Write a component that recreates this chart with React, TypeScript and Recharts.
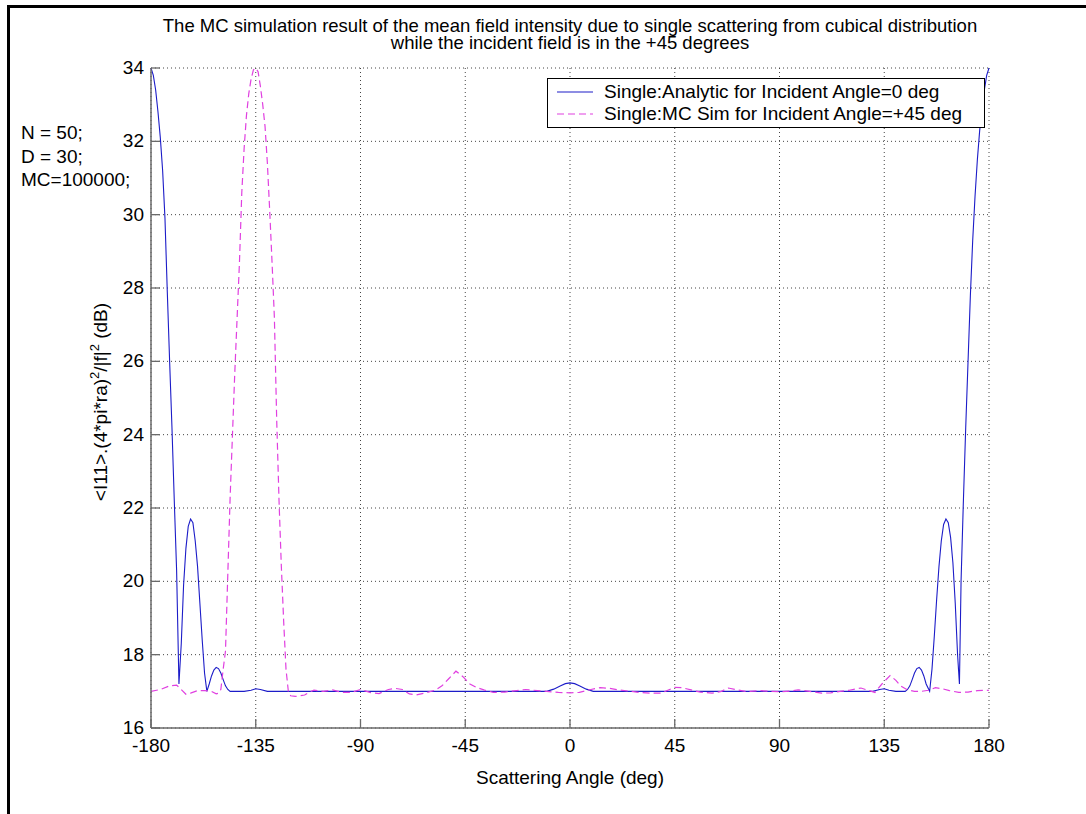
import { CartesianGrid, Label, Legend, Line, LineChart, XAxis, YAxis } from 'recharts'

const FONT = '"Liberation Sans", Arial, Helvetica, sans-serif'
const AXIS = '#6a6a6a'
const GRID = '#444444'
const BLUE = '#1c1cc8'
const MAGENTA = '#e040e0'

const titleLines = [
  'The MC simulation result of the mean field intensity due to single scattering from cubical distribution',
  'while the incident field is in the +45 degrees',
]
const notes = ['N = 50;', 'D = 30;', 'MC=100000;']

const xTicks = [-180, -135, -90, -45, 0, 45, 90, 135, 180]
const yTicks = [16, 18, 20, 22, 24, 26, 28, 30, 32, 34]

// Single:Analytic, incident angle 0 deg
const analyticAngles = [
  -180, -179, -178, -177, -176, -175, -174, -173, -172, -171, -170, -169, -168, -167, -166, -165, -164,
  -163, -162, -161, -160, -159, -158, -157, -156, -155, -154, -153, -152, -151, -150, -149, -148, -147,
  -146, -140, -137, -135, -133, -130, -100, -60, -10, -7, -4, -2, 0, 2, 4, 7, 10, 60, 100, 130, 133, 135,
  137, 140, 144, 145, 146, 147, 148, 149, 150, 151, 152, 153, 154.5, 155.5, 156.5, 157.5, 158.5, 159.5,
  160.5, 161.5, 162.5, 163.5, 164.5, 165.5, 166.5, 167.3, 168, 169, 170, 171, 172, 173, 174, 175, 176,
  177, 178, 179, 180,
]
const analyticDb = [
  34.0, 33.8, 33.4, 32.8, 32.1, 31.2, 29.9, 27.9, 26.0, 24.2, 22.2, 20.3, 17.2, 18.3, 19.9, 20.9, 21.5,
  21.7, 21.6, 21.1, 20.4, 19.4, 18.4, 17.5, 17.0, 17.2, 17.42, 17.58, 17.65, 17.62, 17.5, 17.32, 17.15, 17.05,
  17.0, 17.0, 17.03, 17.07, 17.05, 17.0, 17.0, 17.0, 17.0, 17.06, 17.15, 17.21, 17.23, 17.21, 17.15, 17.06, 17.0, 17.0, 17.0, 17.0, 17.05, 17.07,
  17.03, 17.0, 17.0, 17.05, 17.15, 17.32, 17.5, 17.62, 17.65, 17.58, 17.42, 17.2, 17.0, 17.6, 18.5, 19.5, 20.4, 21.1,
  21.55, 21.7, 21.6, 21.2, 20.5, 19.4, 18.0, 17.2, 20.0, 22.2, 24.2, 26.0, 27.8, 29.3, 30.5, 31.5, 32.3,
  32.9, 33.4, 33.8, 34.0,
]

// Single:MC Sim, incident angle +45 deg
const mcAngles = [
  -180, -176, -172, -169, -167, -165, -163, -160, -157, -154, -152, -151, -150, -149, -148, -147, -146,
  -145, -144, -143, -142, -141, -140, -139, -138, -137, -136, -135, -134, -133, -132, -131, -130, -129,
  -128, -127, -126, -125, -124, -123, -122, -121, -120, -118, -116, -114, -112, -110, -106, -102, -98,
  -94, -90, -86, -82, -78, -75, -72, -69, -66, -62, -58, -55, -52, -49, -46, -43, -40, -37, -33, -28,
  -23, -19, -14, -10, -5, 0, 4, 9, 13, 17, 21, 26, 30, 35, 39, 42, 45, 48, 52, 56, 61, 65, 68, 72, 76,
  81, 86, 91, 95, 98, 103, 108, 112, 116, 120, 125, 128, 131, 134, 137.5, 140, 142, 145, 148, 151, 154,
  157, 160, 163, 167, 171, 175, 180,
]
const mcDb = [
  17.0, 17.05, 17.15, 17.17, 17.05, 16.92, 16.95, 17.02, 17.02, 17.0, 16.93, 16.95, 17.05, 17.6, 18.1, 20.2, 22.3,
  24.0, 25.7, 27.2, 28.7, 30.6, 31.8, 32.7, 33.3, 33.7, 33.95, 34.0, 33.9, 33.5, 33.0, 32.4, 31.4, 30.1,
  28.7, 27.2, 24.4, 22.2, 20.4, 18.9, 17.6, 17.0, 16.88, 16.86, 16.88, 16.9, 16.98, 17.03, 17.0, 17.04, 16.97,
  16.97, 17.05, 16.97, 16.94, 17.05, 17.08, 17.05, 16.93, 16.9, 16.96, 17.03, 17.15, 17.35, 17.55, 17.4, 17.2, 17.1, 17.04, 16.97, 16.98,
  17.02, 17.05, 17.02, 17.0, 16.97, 16.96, 16.97, 17.05, 17.1, 17.08, 17.04, 17.0, 16.97, 16.95, 16.95, 17.03, 17.11, 17.1, 17.04, 16.98, 16.95, 17.0, 17.09, 17.04, 16.99,
  17.02, 17.0, 16.99, 17.01, 17.04, 17.0, 16.95, 16.96, 17.0, 17.03, 17.09, 17.03, 16.97, 17.2, 17.43, 17.3, 17.15, 17.04, 17.0, 17.0, 17.03,
  17.1, 17.07, 17.02, 16.97, 16.98, 17.02, 17.03,
]

const analyticData = analyticAngles.map((a, i) => ({ angle: a, db: analyticDb[i] }))
const mcData = mcAngles.map((a, i) => ({ angle: a, db: mcDb[i] }))

const textStyle = { fontFamily: FONT, fontSize: 19, fill: '#000' }

const BottomTick = (props: any) => {
  const { x, y, payload } = props
  return (
    <g>
      <line x1={x} y1={y} x2={x} y2={y - 9} stroke={AXIS} strokeWidth={1.3} />
      <text x={x} y={y + 24} textAnchor="middle" {...textStyle}>
        {payload.value}
      </text>
    </g>
  )
}

const LeftTick = (props: any) => {
  const { x, y, payload } = props
  return (
    <g>
      <line x1={x} y1={y} x2={x + 9} y2={y} stroke={AXIS} strokeWidth={1.3} />
      <text x={x - 7} y={y + 6} textAnchor="end" {...textStyle}>
        {payload.value}
      </text>
    </g>
  )
}

const TopTick = (props: any) => {
  const { x, y } = props
  return <line x1={x} y1={y} x2={x} y2={y + 9} stroke={AXIS} strokeWidth={1.3} />
}

const RightTick = (props: any) => {
  const { x, y } = props
  return <line x1={x} y1={y} x2={x - 9} y2={y} stroke={AXIS} strokeWidth={1.3} />
}

const XTitle = (props: any) => {
  const { x, y, width } = props.viewBox
  return (
    <text x={x + width / 2} y={y + 56} textAnchor="middle" {...textStyle}>
      Scattering Angle (deg)
    </text>
  )
}

const YTitle = (props: any) => {
  const { y, height } = props.viewBox
  const cx = 100
  const cy = y + height / 2 + 4
  return (
    <text x={cx} y={cy} dy="0.36em" textAnchor="middle" transform={`rotate(-90 ${cx} ${cy})`} {...textStyle}>
      {'<I11>.(4*pi*ra)'}
      <tspan dy={-8} fontSize={13}>2</tspan>
      <tspan dy={8}>/|f|</tspan>
      <tspan dy={-8} fontSize={13}>2</tspan>
      <tspan dy={8}> (dB)</tspan>
    </text>
  )
}

const LegendBox = (props: any) => {
  const items = props.payload || []
  return (
    <div
      style={{
        position: 'relative',
        width: 436,
        height: 48,
        border: '1px solid #000',
        background: '#fff',
        fontFamily: FONT,
        fontSize: 19,
        color: '#000',
      }}
    >
      {items.map((item: any, i: number) => (
        <div key={item.value} style={{ position: 'absolute', left: 0, top: 1 + i * 22, height: 24, width: 436 }}>
          <svg width={40} height={24} style={{ position: 'absolute', left: 9, top: 0 }}>
            <line
              x1={0}
              y1={12}
              x2={36}
              y2={12}
              stroke={item.color}
              strokeWidth={1.2}
              strokeDasharray={item.payload?.strokeDasharray}
            />
          </svg>
          <span style={{ position: 'absolute', left: 56, top: 0, lineHeight: '24px', whiteSpace: 'nowrap' }}>
            {item.value}
          </span>
        </div>
      ))}
    </div>
  )
}

export default function App() {
  return (
    <div style={{ position: 'absolute', left: 0, top: 0, width: 1086, height: 814, background: '#fff', overflow: 'hidden' }}>
      <div
        style={{
          position: 'absolute',
          left: 7,
          top: 5,
          right: 0,
          bottom: 0,
          borderLeft: '3px solid #000',
          borderTop: '3px solid #000',
        }}
      />
      <div
        style={{
          position: 'absolute',
          left: 570,
          top: 17,
          transform: 'translateX(-50%)',
          textAlign: 'center',
          whiteSpace: 'nowrap',
          fontFamily: FONT,
          fontSize: 18.5,
          lineHeight: '17px',
          color: '#000',
        }}
      >
        {titleLines.map((t) => (
          <div key={t}>{t}</div>
        ))}
      </div>
      <div
        style={{
          position: 'absolute',
          left: 21,
          top: 121,
          fontFamily: FONT,
          fontSize: 19,
          lineHeight: '23.5px',
          color: '#000',
          whiteSpace: 'nowrap',
        }}
      >
        {notes.map((n) => (
          <div key={n}>{n}</div>
        ))}
      </div>
      <div style={{ position: 'absolute', left: 0, top: 0 }}>
        <LineChart width={1086} height={814} margin={{ top: 68, right: 97, bottom: 0, left: 0 }}>
          <CartesianGrid stroke={GRID} strokeDasharray="1 3" strokeWidth={1} />
          <XAxis
            dataKey="angle"
            type="number"
            domain={[-180, 180]}
            ticks={xTicks}
            interval={0}
            height={86}
            tickSize={0}
            tickMargin={0}
            tickLine={false}
            tick={BottomTick}
            axisLine={{ stroke: AXIS, strokeWidth: 1.5 }}
          >
            <Label content={XTitle} />
          </XAxis>
          <XAxis
            xAxisId="top"
            orientation="top"
            type="number"
            domain={[-180, 180]}
            ticks={xTicks}
            interval={0}
            height={0}
            tickSize={0}
            tickMargin={0}
            tickLine={false}
            tick={TopTick}
            axisLine={{ stroke: AXIS, strokeWidth: 1.5 }}
          />
          <YAxis
            type="number"
            domain={[16, 34]}
            ticks={yTicks}
            interval={0}
            width={151}
            tickSize={0}
            tickMargin={0}
            tickLine={false}
            tick={LeftTick}
            axisLine={{ stroke: AXIS, strokeWidth: 1.5 }}
          >
            <Label content={YTitle} />
          </YAxis>
          <YAxis
            yAxisId="right"
            orientation="right"
            type="number"
            domain={[16, 34]}
            ticks={yTicks}
            interval={0}
            width={0}
            tickSize={0}
            tickMargin={0}
            tickLine={false}
            tick={RightTick}
            axisLine={{ stroke: AXIS, strokeWidth: 1.5 }}
          />
          <Legend
            layout="vertical"
            align="center"
            verticalAlign="middle"
            content={LegendBox}
            wrapperStyle={{ left: 547, top: 78, width: 438, height: 50 }}
          />
          <Line
            data={analyticData}
            dataKey="db"
            name="Single:Analytic for Incident Angle=0 deg"
            type="linear"
            stroke={BLUE}
            strokeWidth={1.1}
            dot={false}
            activeDot={false}
            isAnimationActive={false}
          />
          <Line
            data={mcData}
            dataKey="db"
            name="Single:MC Sim for Incident Angle=+45 deg"
            type="linear"
            stroke={MAGENTA}
            strokeWidth={1.2}
            strokeDasharray="7 4"
            dot={false}
            activeDot={false}
            isAnimationActive={false}
          />
        </LineChart>
      </div>
    </div>
  )
}
